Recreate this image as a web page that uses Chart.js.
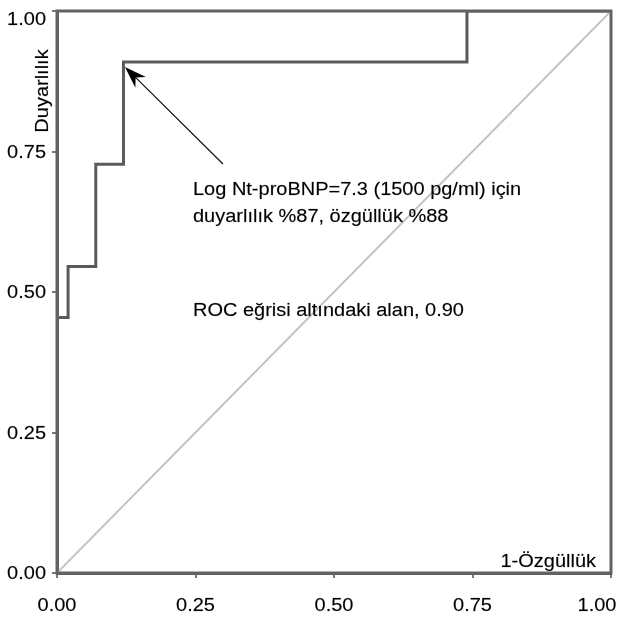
<!DOCTYPE html>
<html>
<head>
<meta charset="utf-8">
<script src="https://cdn.jsdelivr.net/npm/chart.js@4/dist/chart.umd.min.js"></script>
<style>
  html, body { margin: 0; padding: 0; background: #fff; }
  #wrap { width: 621px; height: 619px; }
</style>
</head>
<body>
<div id="wrap"><canvas id="rocChart" width="621" height="619"></canvas></div>
<script>
// ROC curve corners (1-specificity, sensitivity)
const rocX = [0, 0, 0.02, 0.02, 0.07, 0.07, 0.12, 0.12, 0.74, 0.74, 1];
const rocY = [0, 0.4545, 0.4545, 0.5455, 0.5455, 0.7273, 0.7273, 0.9091, 0.9091, 1, 1];

// reference diagonal
const diagX = [0, 1];
const diagY = [0, 1];

const tickValues = [0, 0.25, 0.5, 0.75, 1];
const tickLabels = ['0.00', '0.25', '0.50', '0.75', '1.00'];

const xTitle = '1-Özgüllük';
const yTitle = 'Duyarlılık';
const noteLines = ['Log Nt-proBNP=7.3 (1500 pg/ml) için', 'duyarlılık %87, özgüllük %88'];
const aucText = 'ROC eğrisi altındaki alan, 0.90';

const FONT = '18px "Liberation Sans", Arial, Helvetica, sans-serif';
const STRETCH = 1.11;
const FRAME = '#626262';

function drawText(ctx, txt, x, y, align) {
    ctx.save();
    ctx.translate(x, y);
    ctx.scale(STRETCH, 1);
    ctx.font = FONT;
    ctx.fillStyle = '#000';
    ctx.strokeStyle = 'rgba(0,0,0,0.35)';
    ctx.lineWidth = 0.4;
    ctx.textAlign = align;
    ctx.textBaseline = 'alphabetic';
    ctx.fillText(txt, 0, 0);
    ctx.strokeText(txt, 0, 0);
    ctx.restore();
}

// frame, tick labels, titles and the annotation
const decor = {
    id: 'decor',
    afterDatasetsDraw(chart) {
        const ctx = chart.ctx;
        const a = chart.chartArea;
        const xs = chart.scales.x;
        const ys = chart.scales.y;

        ctx.save();
        ctx.strokeStyle = FRAME;
        ctx.lineWidth = 3;
        ctx.strokeRect(a.left, a.top, a.right - a.left, a.bottom - a.top);
        ctx.restore();

        // x tick labels
        tickValues.forEach((v, i) => {
            let px = xs.getPixelForValue(v);
            px = Math.min(Math.max(px, 51), 597);
            drawText(chart.ctx, tickLabels[i], px, 611, 'center');
        });
        // y tick labels
        tickValues.forEach((v, i) => {
            let py = ys.getPixelForValue(v);
            py = Math.max(py, 19);
            drawText(chart.ctx, tickLabels[i], 46, py + 6, 'right');
        });

        // axis titles
        drawText(ctx, xTitle, 596, 567, 'right');
        ctx.save();
        ctx.translate(48, 91);
        ctx.rotate(-Math.PI / 2);
        drawText(ctx, yTitle, 0, 0, 'center');
        ctx.restore();

        // notes
        const nx = xs.getPixelForValue(0.2455);
        drawText(ctx, noteLines[0], nx, ys.getPixelForValue(0.6726), 'left');
        drawText(ctx, noteLines[1], nx, ys.getPixelForValue(0.6246), 'left');
        drawText(ctx, aucText, nx, ys.getPixelForValue(0.457), 'left');

        // arrow
        const x1 = xs.getPixelForValue(0.2996), y1 = ys.getPixelForValue(0.7278);
        const x2 = xs.getPixelForValue(0.1227), y2 = ys.getPixelForValue(0.9004);
        const ang = Math.atan2(y2 - y1, x2 - x1);
        const hl = 22, hw = 7.5;
        ctx.save();
        ctx.strokeStyle = '#111';
        ctx.fillStyle = '#000';
        ctx.lineWidth = 1.2;
        ctx.beginPath();
        ctx.moveTo(x1, y1);
        ctx.lineTo(x2 - Math.cos(ang) * 12, y2 - Math.sin(ang) * 12);
        ctx.stroke();
        ctx.beginPath();
        ctx.moveTo(x2, y2);
        ctx.lineTo(x2 - Math.cos(ang) * hl - Math.sin(ang) * hw, y2 - Math.sin(ang) * hl + Math.cos(ang) * hw);
        ctx.lineTo(x2 - Math.cos(ang) * 15, y2 - Math.sin(ang) * 15);
        ctx.lineTo(x2 - Math.cos(ang) * hl + Math.sin(ang) * hw, y2 - Math.sin(ang) * hl - Math.cos(ang) * hw);
        ctx.closePath();
        ctx.fill();
        ctx.restore();
    }
};

function createChart() {
    const ctx = document.getElementById('rocChart').getContext('2d');
    const rocData = rocX.map((x, i) => ({ x: x, y: rocY[i] }));
    const diagData = diagX.map((x, i) => ({ x: x, y: diagY[i] }));

    const axis = (fitFn) => ({
        type: 'linear',
        min: 0,
        max: 1,
        afterBuildTicks: (s) => { s.ticks = tickValues.map(v => ({ value: v })); },
        ticks: { display: false },
        grid: {
            display: true,
            drawOnChartArea: false,
            drawTicks: true,
            tickLength: 5,
            color: '#777',
            lineWidth: 2
        },
        border: { display: true, color: FRAME, width: 3 },
        afterFit: fitFn
    });

    new Chart(ctx, {
        type: 'scatter',
        data: {
            datasets: [
                {
                    label: 'diagonal',
                    data: diagData,
                    showLine: true,
                    borderColor: '#c4c4c4',
                    borderWidth: 2,
                    pointRadius: 0
                },
                {
                    label: 'ROC',
                    data: rocData,
                    showLine: true,
                    borderColor: '#5a5a5a',
                    borderWidth: 3,
                    pointRadius: 0,
                    borderJoinStyle: 'miter'
                }
            ]
        },
        options: {
            responsive: false,
            animation: false,
            layout: { padding: { left: 0, right: 10, top: 11, bottom: 0 } },
            plugins: { legend: { display: false }, tooltip: { enabled: false } },
            scales: {
                x: axis((s) => { s.height = 46; s.paddingLeft = 0; s.paddingRight = 0; }),
                y: axis((s) => { s.width = 57; s.paddingTop = 0; s.paddingBottom = 0; })
            }
        },
        plugins: [decor]
    });
}

createChart();
</script>
</body>
</html>
